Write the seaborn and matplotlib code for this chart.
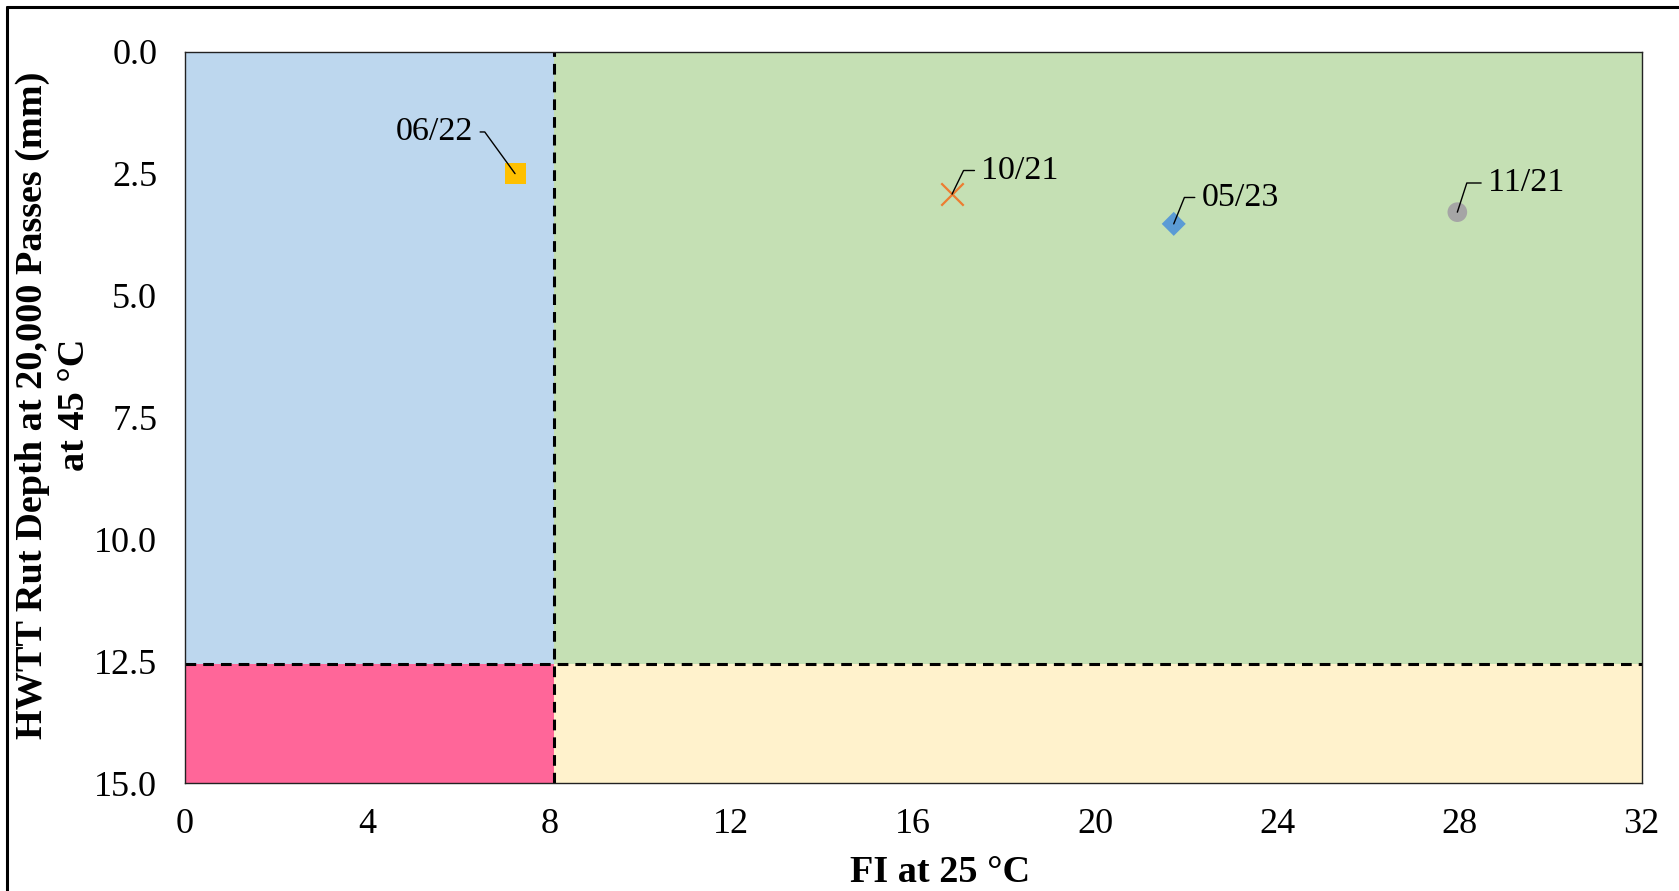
import matplotlib
matplotlib.use("Agg")
import matplotlib.pyplot as plt
from matplotlib.patches import Rectangle
from matplotlib.lines import Line2D
import seaborn as sns
import pandas as pd

# ---- data ----
labels = ["06/22", "10/21", "05/23", "11/21"]
fi_values = [7.25, 16.85, 21.72, 27.95]
rut_values = [2.50, 2.92, 3.53, 3.29]
marker_shapes = ["s", "x", "D", "o"]
marker_colors = ["#FFC000", "#ED7D31", "#5B9BD5", "#A5A5A5"]
marker_sizes = [230, 260, 150, 200]
# label offsets (points) and leader angle (deg)
label_offsets = [(-30, 30), (21, 17), (20, 19), (22, 21)]
leader_angles = [126, 64, 68, 72]

fi_threshold = 8.1
rut_threshold = 12.56
x_ticks = [0, 4, 8, 12, 16, 20, 24, 28, 32]
y_ticks = [0.0, 2.5, 5.0, 7.5, 10.0, 12.5, 15.0]
x_max = 32
y_max = 15

region_colors = {"blue": "#BDD7EE", "green": "#C5E0B4",
                 "pink": "#FF6699", "yellow": "#FFF2CC"}

df = pd.DataFrame({"label": labels, "FI": fi_values, "Rut": rut_values})

sns.set_theme(style="white")
plt.rcParams["font.family"] = ["Liberation Serif", "DejaVu Serif"]

fig = plt.figure(figsize=(16.79, 8.91), dpi=100)
ax = fig.add_axes([185 / 1679, 1 - 783.3 / 891, 1456.7 / 1679, 731.6 / 891])

# background regions
ax.add_patch(Rectangle((0, 0), fi_threshold, rut_threshold,
                       facecolor=region_colors["blue"], edgecolor="none", zorder=0))
ax.add_patch(Rectangle((fi_threshold, 0), x_max - fi_threshold, rut_threshold,
                       facecolor=region_colors["green"], edgecolor="none", zorder=0))
ax.add_patch(Rectangle((0, rut_threshold), fi_threshold, y_max - rut_threshold,
                       facecolor=region_colors["pink"], edgecolor="none", zorder=0))
ax.add_patch(Rectangle((fi_threshold, rut_threshold), x_max - fi_threshold, y_max - rut_threshold,
                       facecolor=region_colors["yellow"], edgecolor="none", zorder=0))

# threshold lines
ax.axvline(fi_threshold, color="black", lw=2.2, ls=(0, (3.5, 2.3)), zorder=2)
ax.axhline(rut_threshold, color="black", lw=2.2, ls=(0, (3.5, 2.3)), zorder=2)

# points
for i, row in df.iterrows():
    sub = df.iloc[[i]]
    if marker_shapes[i] == "x":
        sns.scatterplot(data=sub, x="FI", y="Rut", marker="x", s=marker_sizes[i],
                        color=marker_colors[i], linewidth=1.6, ax=ax, zorder=4, legend=False)
    else:
        sns.scatterplot(data=sub, x="FI", y="Rut", marker=marker_shapes[i], s=marker_sizes[i],
                        color=marker_colors[i], edgecolor="none", ax=ax, zorder=4, legend=False)

# labels with leader lines
for i, row in df.iterrows():
    dx, dy = label_offsets[i]
    ha = "right" if dx < 0 else "left"
    relx = 1.0 if dx < 0 else 0.0
    ax.annotate(row["label"], xy=(row["FI"], row["Rut"]), xytext=(dx, dy),
                textcoords="offset points", ha=ha, va="center", fontsize=24.5,
                color="black", zorder=5,
                arrowprops=dict(arrowstyle="-", color="black", lw=1.0,
                                shrinkA=2.5, shrinkB=0, relpos=(relx, 0.5),
                                connectionstyle=f"angle,angleA=0,angleB={leader_angles[i]},rad=0"))

ax.set_xlim(0, x_max)
ax.set_ylim(y_max, 0)
ax.set_xticks(x_ticks)
ax.set_xticklabels([str(t) for t in x_ticks])
ax.set_yticks(y_ticks)
ax.set_yticklabels([f"{t:.1f}" for t in y_ticks])
ax.tick_params(axis="both", length=0, labelsize=26, colors="black")
ax.tick_params(axis="x", pad=18)
ax.tick_params(axis="y", pad=20)

for sp in ax.spines.values():
    sp.set_color("#222222")
    sp.set_linewidth(1.0)
    sp.set_zorder(6)

ax.set_xlabel("FI at 25 °C", fontsize=27.5, fontweight="bold", color="black")
ax.set_ylabel("HWTT Rut Depth at 20,000 Passes (mm)\nat 45 °C", fontsize=27.5,
              fontweight="bold", color="black", linespacing=1.25)
ax.xaxis.set_label_coords(0.518, -0.098)
ax.yaxis.set_label_coords(-0.064, 0.517)

# outer frame (left & top edges visible)
fig.add_artist(Line2D([6.5 / 1679, 6.5 / 1679], [0, 1 - 6.5 / 891],
                      transform=fig.transFigure, color="black", lw=2.2))
fig.add_artist(Line2D([6.5 / 1679, 1], [1 - 6.5 / 891, 1 - 6.5 / 891],
                      transform=fig.transFigure, color="black", lw=2.2))

fig.savefig("out.png", dpi=100, facecolor="white")
